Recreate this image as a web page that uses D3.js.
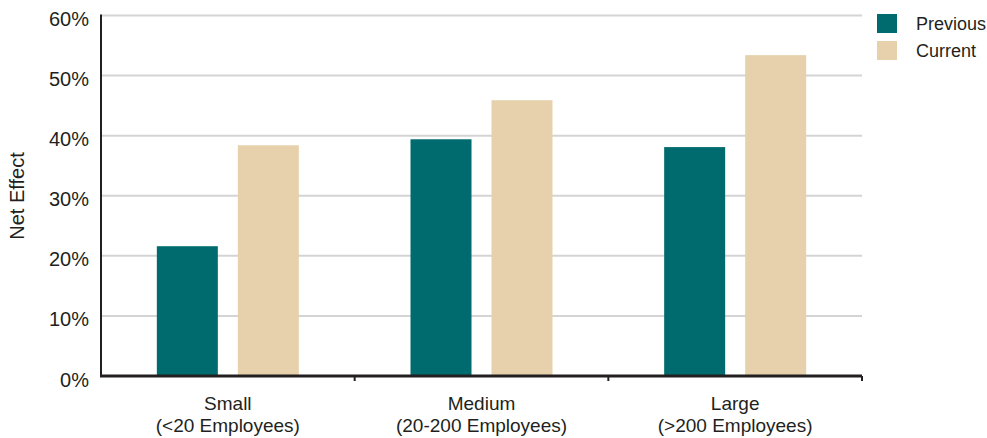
<!DOCTYPE html>
<html><head><meta charset="utf-8">
<script src="https://cdn.jsdelivr.net/npm/d3@7"></script>
<style>body{margin:0;background:#fff;} text{font-family:"Liberation Sans",Arial,Helvetica,sans-serif;fill:#231f20;}</style>
</head><body><svg id="c" width="987" height="438"></svg>
<script>
const categories = ["Small|(<20 Employees)", "Medium|(20-200 Employees)", "Large|(>200 Employees)"];
const seriesNames = ["Previous", "Current"];
const previous = [21.6, 39.4, 38.1];
const current = [38.4, 45.9, 53.4];
const yTicks = [0, 10, 20, 30, 40, 50, 60];
const colors = ["#006b6e", "#e6d1ac"];

const svg = d3.select("#c");
const pLeft = 101, pRight = 862, pTop = 15.5, pBottom = 376;
const x = d3.scaleBand().domain(categories).range([pLeft, pRight]).padding(0);
const y = d3.scaleLinear().domain([0, 60]).range([pBottom, pTop]);
const barW = 61, gap = 20;

// gridlines
svg.append("g").selectAll("line").data(yTicks.filter(d => d > 0)).join("line")
  .attr("x1", pLeft).attr("x2", pRight).attr("y1", d => y(d)).attr("y2", d => y(d))
  .attr("stroke", "#d4d4d4").attr("stroke-width", 2);

// bars
const data = categories.map((c, i) => ({c, vals: [previous[i], current[i]]}));
const g = svg.append("g");
data.forEach(d => {
  const cx = x(d.c) + x.bandwidth() / 2;
  d.vals.forEach((v, j) => {
    const bx = j === 0 ? cx - gap / 2 - barW : cx + gap / 2;
    g.append("rect").attr("x", bx).attr("width", barW)
      .attr("y", y(v)).attr("height", y(0) - y(v)).attr("fill", colors[j]);
  });
});

// y axis
svg.append("line").attr("x1", pLeft).attr("x2", pLeft).attr("y1", pTop - 1).attr("y2", pBottom + 1)
  .attr("stroke", "#231f20").attr("stroke-width", 2);
svg.append("g").selectAll("text").data(yTicks).join("text")
  .attr("x", 89).attr("y", d => y(d) + 10.5).attr("text-anchor", "end")
  .attr("font-size", 20).text(d => d + "%");
svg.append("text").attr("transform", "translate(24,196) rotate(-90)")
  .attr("text-anchor", "middle").attr("font-size", 20).text("Net Effect");

// x axis
svg.append("line").attr("x1", pLeft - 1).attr("x2", pRight).attr("y1", pBottom).attr("y2", pBottom)
  .attr("stroke", "#231f20").attr("stroke-width", 3);
svg.append("g").selectAll("line").data(categories.slice(1).concat(["end"])).join("line")
  .attr("x1", (d, i) => i < 2 ? x(d) : pRight).attr("x2", (d, i) => i < 2 ? x(d) : pRight)
  .attr("y1", pBottom).attr("y2", pBottom + 5).attr("stroke", "#231f20").attr("stroke-width", 2);
const xl = svg.append("g").selectAll("text").data(categories).join("text")
  .attr("text-anchor", "middle").attr("font-size", 19);
xl.each(function(d) {
  const parts = d.split("|");
  const cx = x(d) + x.bandwidth() / 2;
  parts.forEach((p, i) => d3.select(this).append("tspan").attr("x", cx).attr("y", 410 + i * 22).text(p));
});

// legend
const lg = svg.append("g");
seriesNames.forEach((s, i) => {
  lg.append("rect").attr("x", 877).attr("y", 14 + i * 27).attr("width", 20).attr("height", 19).attr("fill", colors[i]);
  lg.append("text").attr("x", 916).attr("y", 30 + i * 27).attr("font-size", 18).text(s);
});
</script></body></html>
